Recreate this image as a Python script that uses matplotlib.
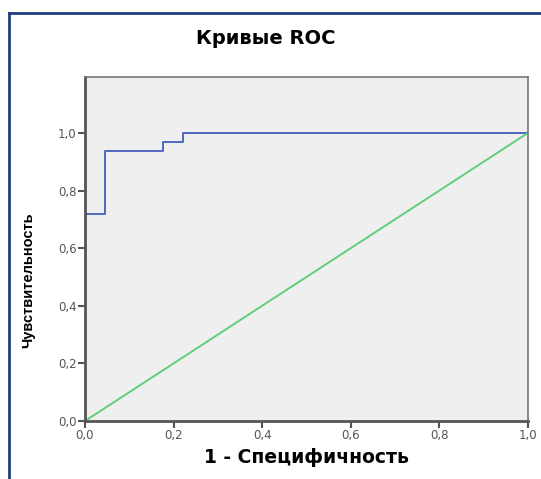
import matplotlib
matplotlib.use("Agg")
import matplotlib.pyplot as plt
from matplotlib.lines import Line2D

plt.rcParams['font.family'] = ['Liberation Sans', 'DejaVu Sans']

# ROC curve points (1 - specificity, sensitivity)
fpr = [0.0, 0.0, 0.045, 0.045, 0.176, 0.176, 0.221, 0.221, 1.0]
tpr = [0.0, 0.719, 0.719, 0.9375, 0.9375, 0.969, 0.969, 1.0, 1.0]
ref_line = [0.0, 1.0]
ticks = [0.0, 0.2, 0.4, 0.6, 0.8, 1.0]
tick_labels = ['0,0', '0,2', '0,4', '0,6', '0,8', '1,0']

fig = plt.figure(figsize=(5.41, 4.79), dpi=100)
ax = fig.add_axes([85/541, 1 - 421/479, 443/541, 344/479])
ax.set_facecolor('#efefef')

ax.plot(fpr, tpr, color='#5068c0', lw=1.4)
ax.plot(ref_line, ref_line, color='#5fcf7a', lw=1.4)

ax.set_xlim(0, 1.0)
ax.set_ylim(0, 1.194)
ax.set_xticks(ticks)
ax.set_xticklabels(tick_labels, family=['DejaVu Sans'])
ax.set_yticks(ticks)
ax.set_yticklabels(tick_labels, family=['DejaVu Sans'])
ax.tick_params(direction='out', length=5, width=1.5, color='#555555',
               labelcolor='#555555', labelsize=8.5, pad=1)
for s in ax.spines.values():
    s.set_color('#777777')
    s.set_linewidth(1.2)
ax.spines['left'].set_color('#555555')
ax.spines['left'].set_linewidth(2)
ax.spines['bottom'].set_color('#555555')
ax.spines['bottom'].set_linewidth(2)

ax.set_xlabel('1 - Специфичность', fontsize=13.5, fontweight='bold',
              family=['DejaVu Sans'], labelpad=4)
ax.set_ylabel('Чувствительность', fontsize=10.5, fontweight='bold')
ax.yaxis.set_label_coords(-0.113, 0.41)
fig.text(266/541, 1 - 38/479, 'Кривые ROC', ha='center', va='center',
         fontsize=14, fontweight='bold', family=['DejaVu Sans'])

# outer frame
fig.add_artist(Line2D([9/541, 9/541], [0, 1 - 13/479], color='#1f3f7f', lw=2))
fig.add_artist(Line2D([9/541, 1], [1 - 13/479, 1 - 13/479], color='#1f3f7f', lw=2))

fig.savefig('out.png', dpi=100, facecolor='white')
